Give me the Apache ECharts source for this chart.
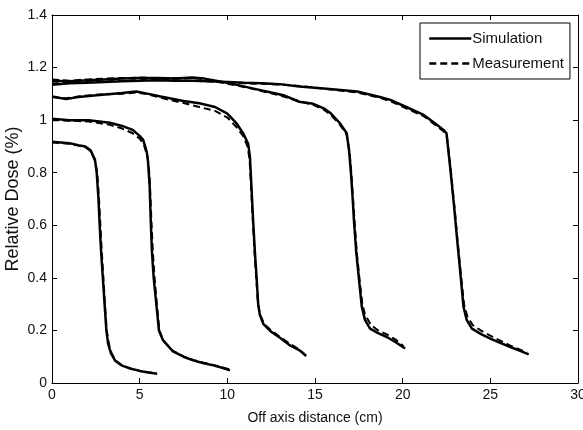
<!DOCTYPE html>
<html>
<head>
<meta charset="utf-8">
<script src="https://cdn.jsdelivr.net/npm/echarts@6/dist/echarts.min.js"></script>
<style>html,body{margin:0;padding:0;background:#fff;}#c{width:583px;height:430px;}</style>
</head>
<body>
<div id="c"></div>
<script>
// Simulation profiles [off-axis distance (cm), relative dose]
var sim1 = [[0,0.918],[0.5,0.915],[1.0,0.912],[1.5,0.905],[1.9,0.9],[2.2,0.885],[2.45,0.85],[2.55,0.8],[2.65,0.7],[2.72,0.6],[2.8,0.5],[2.9,0.4],[3.0,0.3],[3.1,0.2],[3.2,0.15],[3.35,0.115],[3.6,0.085],[4.0,0.066],[4.5,0.054],[5.0,0.046],[5.5,0.04],[6.0,0.035]];
var sim2 = [[0,1.005],[1,1.0],[2.1,1.0],[3.3,0.99],[4.0,0.978],[4.6,0.963],[5.0,0.94],[5.2,0.925],[5.4,0.88],[5.47,0.848],[5.57,0.75],[5.63,0.62],[5.7,0.5],[5.8,0.4],[5.95,0.3],[6.1,0.2],[6.33,0.163],[6.9,0.12],[7.5,0.1],[8.05,0.086],[8.6,0.076],[9.2,0.067],[9.7,0.058],[10.15,0.048]];
var sim3 = [[0,1.09],[0.4,1.085],[0.8,1.08],[1.5,1.088],[2.7,1.096],[4.0,1.103],[4.8,1.109],[5.5,1.1],[6.2,1.09],[7.5,1.073],[8.4,1.064],[9.3,1.05],[10.0,1.025],[10.5,0.99],[10.9,0.95],[11.19,0.91],[11.29,0.86],[11.38,0.74],[11.47,0.62],[11.57,0.5],[11.67,0.4],[11.76,0.3],[11.85,0.26],[12.05,0.225],[12.5,0.195],[13.0,0.172],[13.6,0.142],[14.1,0.125],[14.5,0.103]];
var sim4 = [[0,1.15],[1,1.148],[2,1.152],[3,1.155],[4,1.158],[5,1.16],[6,1.16],[7,1.158],[8,1.162],[8.7,1.158],[9.5,1.148],[10.3,1.138],[11.5,1.12],[12.5,1.105],[13.2,1.095],[14.1,1.07],[14.9,1.062],[15.5,1.045],[15.9,1.026],[16.4,0.99],[16.81,0.95],[16.95,0.88],[17.05,0.8],[17.15,0.7],[17.22,0.62],[17.35,0.5],[17.5,0.4],[17.67,0.29],[17.85,0.24],[18.14,0.207],[18.6,0.19],[19.1,0.175],[19.6,0.155],[20.14,0.131]];
var sim5 = [[0,1.135],[1,1.14],[2,1.142],[3,1.145],[4,1.148],[5,1.15],[6,1.152],[7,1.15],[8,1.15],[9,1.148],[10,1.145],[11,1.142],[12,1.14],[13,1.137],[14.1,1.128],[15.5,1.12],[17.4,1.109],[18.7,1.088],[19.3,1.077],[20.2,1.05],[21.2,1.02],[21.8,0.99],[22.33,0.963],[22.5,0.95],[22.71,0.82],[22.95,0.66],[23.1,0.55],[23.26,0.44],[23.47,0.29],[23.65,0.24],[23.95,0.207],[24.5,0.185],[25.0,0.169],[25.6,0.152],[26.14,0.137],[26.7,0.122],[27.19,0.109]];
// Measurement profiles
var meas1 = [[0,0.915],[0.5,0.913],[1.0,0.91],[1.5,0.903],[1.9,0.897],[2.2,0.883],[2.45,0.845],[2.58,0.8],[2.68,0.7],[2.76,0.6],[2.84,0.5],[2.93,0.4],[3.02,0.3],[3.12,0.2],[3.24,0.15],[3.4,0.113],[3.65,0.084],[4.0,0.067],[4.5,0.055],[5.0,0.047],[5.5,0.041],[5.9,0.037]];
var meas2 = [[0,1.0],[1,0.998],[2.1,0.995],[3.3,0.982],[4.0,0.968],[4.6,0.95],[5.0,0.93],[5.25,0.905],[5.45,0.86],[5.55,0.8],[5.62,0.7],[5.68,0.6],[5.75,0.5],[5.85,0.4],[5.98,0.3],[6.12,0.2],[6.35,0.16],[6.9,0.122],[7.5,0.101],[8.05,0.088],[8.6,0.078],[9.2,0.069],[9.7,0.06],[10.1,0.052]];
var meas3 = [[0,1.088],[0.8,1.083],[1.5,1.09],[2.7,1.098],[4.0,1.1],[4.8,1.105],[5.5,1.098],[6.2,1.085],[7.5,1.065],[8.4,1.05],[9.3,1.035],[10.0,1.01],[10.5,0.975],[10.9,0.94],[11.15,0.9],[11.27,0.85],[11.36,0.74],[11.45,0.62],[11.55,0.5],[11.65,0.4],[11.75,0.3],[11.87,0.26],[12.1,0.225],[12.5,0.2],[13.0,0.175],[13.6,0.148],[14.1,0.128],[14.4,0.11]];
var meas4 = [[0,1.155],[1,1.15],[2,1.155],[3,1.158],[4,1.16],[5,1.162],[6,1.16],[7,1.16],[8,1.16],[8.7,1.155],[9.5,1.145],[10.3,1.135],[11.5,1.118],[12.5,1.102],[13.2,1.09],[14.1,1.072],[14.9,1.058],[15.5,1.04],[15.9,1.02],[16.4,0.985],[16.8,0.945],[16.97,0.88],[17.07,0.8],[17.17,0.7],[17.25,0.62],[17.38,0.5],[17.53,0.4],[17.7,0.3],[17.85,0.26],[18.2,0.22],[18.6,0.2],[19.1,0.185],[19.6,0.165],[20.05,0.14]];
var meas5 = [[0,1.14],[1,1.142],[2,1.145],[3,1.147],[4,1.15],[5,1.152],[6,1.153],[7,1.152],[8,1.15],[9,1.147],[10,1.143],[11,1.14],[12,1.138],[13,1.135],[14.1,1.13],[15.5,1.12],[17.4,1.105],[18.7,1.085],[19.3,1.072],[20.2,1.045],[21.2,1.015],[21.8,0.985],[22.33,0.958],[22.52,0.94],[22.73,0.82],[22.97,0.66],[23.12,0.55],[23.28,0.44],[23.5,0.3],[23.7,0.25],[24.0,0.22],[24.5,0.198],[25.0,0.18],[25.6,0.16],[26.14,0.142],[26.7,0.127],[27.1,0.116]];

var simSets = [sim1, sim2, sim3, sim4, sim5];
var measSets = [meas1, meas2, meas3, meas4, meas5];
var legendNames = ['Simulation', 'Measurement'];

var FONT = '"Liberation Sans", Arial, sans-serif';
var chart = echarts.init(document.getElementById('c'), null, {renderer: 'canvas'});
var series = [];
simSets.forEach(function (d) {
  series.push({name: legendNames[0], type: 'line', data: d, symbol: 'none', smooth: false,
    lineStyle: {color: '#000', width: 2.5, type: 'solid'}, itemStyle: {color: '#000'}, z: 3});
});
measSets.forEach(function (d) {
  series.push({name: legendNames[1], type: 'line', data: d, symbol: 'none', smooth: false,
    lineStyle: {color: '#000', width: 2, type: [7, 4]}, itemStyle: {color: '#000'}, z: 2});
});
var tickCommon = {show: true, inside: true, length: 5, lineStyle: {color: '#000', width: 1}};
var lineCommon = {show: true, onZero: false, lineStyle: {color: '#000', width: 1}};
chart.setOption({
  animation: false,
  backgroundColor: '#fff',
  grid: {left: 52, right: 5, top: 15, bottom: 47, containLabel: false, outerBoundsMode: 'none'},
  legend: {
    data: legendNames,
    orient: 'vertical', left: 420, top: 23,
    itemWidth: 42, itemHeight: 14, itemGap: 10,
    padding: [8, 6, 8, 8],
    borderColor: '#000', borderWidth: 1, backgroundColor: '#fff',
    itemStyle: {opacity: 0, borderWidth: 0},
    lineStyle: {width: 2.5},
    textStyle: {fontFamily: FONT, fontSize: 15, color: '#111', padding: [0, 0, 0, -4]}
  },
  xAxis: [
    {type: 'value', min: 0, max: 30, interval: 5, position: 'bottom',
      name: 'Off axis distance (cm)', nameLocation: 'middle', nameGap: 28, nameMoveOverlap: false,
      nameTextStyle: {fontFamily: FONT, fontSize: 14, color: '#111'},
      axisLine: lineCommon, axisTick: tickCommon, splitLine: {show: false},
      axisLabel: {fontFamily: FONT, fontSize: 14, color: '#111', margin: 5}},
    {type: 'value', min: 0, max: 30, interval: 5, position: 'top',
      axisLine: lineCommon, axisTick: tickCommon, splitLine: {show: false},
      axisLabel: {show: false}}
  ],
  yAxis: [
    {type: 'value', min: 0, max: 1.4, interval: 0.2, position: 'left',
      name: 'Relative Dose (%)', nameLocation: 'middle', nameGap: 30, nameMoveOverlap: false,
      nameTextStyle: {fontFamily: FONT, fontSize: 18, color: '#111'},
      axisLine: lineCommon, axisTick: tickCommon, splitLine: {show: false},
      axisLabel: {fontFamily: FONT, fontSize: 14, color: '#111', margin: 5}},
    {type: 'value', min: 0, max: 1.4, interval: 0.2, position: 'right',
      axisLine: lineCommon, axisTick: tickCommon, splitLine: {show: false},
      axisLabel: {show: false}}
  ],
  series: series
});
</script>
</body>
</html>
